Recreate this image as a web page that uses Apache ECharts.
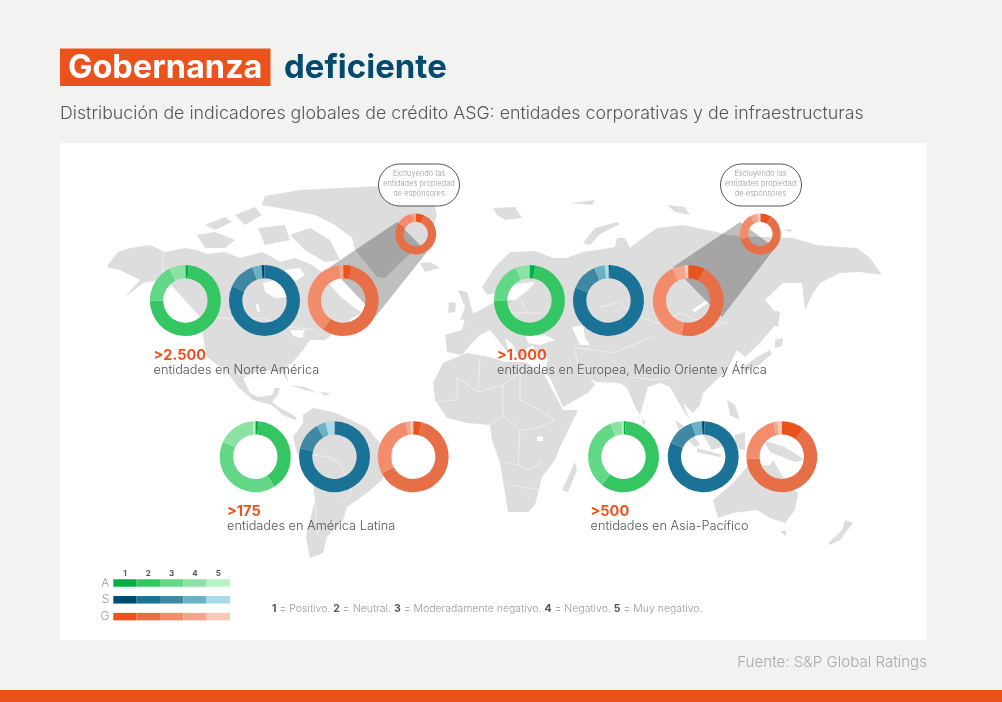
<!DOCTYPE html>
<html lang="es">
<head>
<meta charset="UTF-8">
<script src="https://cdn.jsdelivr.net/npm/echarts@6/dist/echarts.min.js"></script>
</head>
<body style="margin:0;background:#f2f2f0">
<div id="container" style="width:1002px;height:702px"></div>
<script>
var FONT = 'Inter';

// shares per rating level (1..5), clockwise from the top of each ring
var naA = [1.5, 73.5, 17.5, 7.5, 0];
var naS = [1.5, 81.7, 12.7, 4.1, 0];
var naG = [3.9, 55.8, 38.4, 1.9, 0];
var naGx = [6.9, 77, 13.5, 2.6, 0];
var emeaA = [2.6, 72.4, 18.6, 6.4, 0];
var emeaS = [0.7, 80.3, 12.4, 4.9, 1.7];
var emeaG = [7.5, 45.5, 39.8, 5.4, 1.8];
var emeaGx = [8.9, 61.9, 21.7, 5, 2.5];
var latamA = [1.5, 39.5, 41, 17, 1];
var latamS = [0, 78.9, 12.8, 4.1, 4.2];
var latamG = [3.9, 63.4, 29.2, 2.1, 1.4];
var apacA = [1, 59.4, 33.6, 5.2, 0.8];
var apacS = [1.2, 81, 13, 4.8, 0];
var apacG = [10.7, 63.1, 22.2, 2, 2];

var levels = ['1', '2', '3', '4', '5'];
var pillars = ['A', 'S', 'G'];
var legendCell = [1, 1, 1];

var colorsA = ['#05ad49', '#33c662', '#62d887', '#8ce2a3', '#b5f4c6'];
var colorsS = ['#004a6f', '#1a7397', '#3f87a3', '#6cb0c4', '#a8dce9'];
var colorsG = ['#ec531c', '#e76f47', '#f38c6b', '#f6a58b', '#f9c8b6'];

// land outlines, traced in page pixels
var land = [
  [[107,266],[118,252],[130,248],[150,245],[165,252],[185,248],[197,250],[207,254],[225,252],[240,258],[262,252],[270,256],[280,262],[295,258],[312,265],[322,272],[328,283],[342,298],[355,308],[362,313],[352,318],[345,325],[335,332],[325,340],[310,340],[303,350],[292,363],[285,368],[288,382],[282,372],[260,370],[243,378],[250,393],[258,397],[272,395],[275,388],[280,388],[278,395],[272,402],[280,408],[288,412],[297,418],[295,420],[283,415],[272,405],[253,400],[238,387],[228,373],[207,357],[203,337],[200,317],[173,287],[160,280],[143,283],[125,297],[140,280],[120,270],[110,268]],
  [[265,196],[300,190],[340,188],[400,185],[432,195],[437,215],[428,240],[405,258],[385,278],[377,277],[365,262],[355,250],[352,238],[335,225],[315,215],[290,210],[262,205]],
  [[197,235],[215,232],[235,240],[225,248],[205,248]],
  [[205,225],[225,217],[232,222],[215,230]],
  [[235,215],[255,207],[262,215],[245,225]],
  [[258,228],[285,225],[290,240],[265,245]],
  [[290,235],[310,228],[330,240],[340,260],[325,262],[305,250]],
  [[420,263],[430,262],[440,268],[425,272]],
  [[290,385],[305,387],[317,393],[305,390]],
  [[320,392],[330,393],[325,396]],
  [[303,415],[313,408],[333,412],[347,418],[367,428],[380,443],[393,450],[392,460],[382,480],[367,493],[347,507],[343,520],[327,537],[323,553],[310,558],[306,537],[315,500],[312,473],[297,453],[293,437],[303,423]],
  [[433,383],[443,363],[467,353],[490,357],[505,362],[525,362],[543,373],[547,380],[563,410],[578,410],[560,447],[555,460],[542,477],[535,505],[528,512],[508,512],[500,463],[492,440],[490,425],[467,423],[447,418],[435,400]],
  [[482,287],[495,267],[510,252],[535,251],[553,258],[567,258],[583,252],[597,250],[615,247],[617,238],[625,238],[630,248],[640,240],[657,228],[667,227],[683,225],[707,230],[717,232],[727,235],[747,237],[773,237],[793,238],[817,245],[840,247],[857,248],[870,258],[882,275],[860,272],[840,273],[820,283],[813,293],[805,310],[803,293],[802,283],[783,283],[765,300],[775,312],[777,323],[760,343],[745,357],[737,350],[727,370],[703,393],[700,405],[693,413],[683,403],[690,420],[683,410],[670,387],[660,383],[648,387],[640,415],[635,407],[627,388],[620,383],[597,382],[588,393],[563,407],[550,378],[545,373],[548,358],[537,353],[533,345],[527,348],[520,360],[513,345],[505,338],[510,355],[498,340],[490,330],[480,335],[470,345],[462,355],[447,352],[445,335],[462,330],[465,318],[480,310],[493,303],[496,293],[487,295]],
  [[458,290],[467,292],[472,310],[475,318],[460,320],[465,307]],
  [[449,302],[456,303],[455,312],[448,313]],
  [[493,208],[515,207],[522,218],[505,220],[497,215]],
  [[570,203],[595,200],[592,205]],
  [[667,205],[685,207],[690,215],[675,212]],
  [[583,243],[595,228],[617,222],[620,224],[600,234],[590,245]],
  [[783,229],[793,230],[790,232]],
  [[775,310],[780,312],[778,327],[774,325]],
  [[757,357],[770,350],[772,354],[760,364],[745,372],[742,368]],
  [[775,340],[783,338],[782,346],[775,348]],
  [[562,490],[575,462],[577,470],[568,492]],
  [[675,420],[690,430],[700,445],[695,447],[680,432]],
  [[697,448],[722,455],[720,457],[697,452]],
  [[703,435],[725,432],[728,445],[712,450]],
  [[727,400],[735,405],[740,420],[730,415]],
  [[735,435],[745,432],[745,450],[735,448]],
  [[763,440],[785,447],[805,460],[795,462],[770,452]],
  [[642,418],[646,422],[643,426]],
  [[713,500],[733,483],[747,467],[770,465],[773,460],[783,477],[798,493],[795,510],[785,523],[770,518],[757,510],[733,513],[718,518]],
  [[780,531],[787,531],[785,536]],
  [[828,543],[842,530],[845,520],[853,523],[840,540],[830,545]]
];

// seas and big lakes painted back over the land
var water = [
  [[263,283],[275,280],[285,270],[300,268],[305,275],[292,283],[287,292],[287,297],[275,298],[265,292]],
  [[256,304],[258,304],[260,312],[257,311]],
  [[507,290],[515,285],[525,283],[535,282],[528,290],[515,300],[505,300]],
  [[525,335],[545,335],[555,340],[540,345],[528,343]],
  [[572,327],[583,325],[585,338],[590,345],[580,345]],
  [[692,310],[707,300],[708,303],[695,312]],
  [[290,330],[305,330],[302,338],[293,336]],
  [[590,378],[598,383],[596,386]],
  [[537,437],[543,436],[543,441],[537,441]]
];

// country borders
var borders = [
  [[457,377],[478,392],[503,385],[520,372]],
  [[457,377],[457,400],[437,402]],
  [[503,385],[503,415],[490,425]],
  [[520,372],[520,400],[540,410],[555,420]],
  [[503,415],[520,430],[538,428],[555,420]],
  [[520,430],[518,465],[530,470],[542,462]],
  [[505,462],[518,465]],
  [[510,485],[540,490]],
  [[525,362],[522,372]],
  [[480,358],[478,392]],
  [[200,318],[260,318],[290,327],[315,330]],
  [[210,362],[240,375],[265,378]],
  [[163,250],[163,280],[173,287]],
  [[312,455],[328,457],[340,463],[352,493],[343,503]],
  [[315,500],[318,535]],
  [[600,307],[620,302],[630,313],[657,323],[680,313],[697,320],[727,323]],
  [[660,320],[680,327],[707,328],[727,323]],
  [[507,313],[540,313]],
  [[520,297],[527,313]],
  [[573,347],[613,353],[653,337]],
  [[630,377],[657,380],[673,377]],
  [[575,350],[580,375]]
];

var geoJson = {
  type: 'FeatureCollection',
  features: land.map(function (ring, i) {
    return { type: 'Feature', properties: { name: 'land' + i }, geometry: { type: 'Polygon', coordinates: [ring] } };
  }).concat(water.map(function (ring, i) {
    return { type: 'Feature', properties: { name: 'water' + i }, geometry: { type: 'Polygon', coordinates: [ring] } };
  }))
};
echarts.registerMap('world', geoJson);

var RING_BIG = [22.2, 35.5];
var RING_SMALL = [12.2, 20.5];

var donuts = [
  { values: naA, colors: colorsA, center: [185.4, 300.5], radius: RING_BIG, turn: 0 },
  { values: naS, colors: colorsS, center: [264.5, 300.5], radius: RING_BIG, turn: 1.5 },
  { values: naG, colors: colorsG, center: [343.2, 300.5], radius: RING_BIG, turn: 0 },
  { values: naGx, colors: colorsG, center: [415.7, 234], radius: RING_SMALL, turn: 0 },
  { values: emeaA, colors: colorsA, center: [529.5, 300.5], radius: RING_BIG, turn: 0 },
  { values: emeaS, colors: colorsS, center: [608.5, 300.5], radius: RING_BIG, turn: 0 },
  { values: emeaG, colors: colorsG, center: [688.2, 300.5], radius: RING_BIG, turn: 0 },
  { values: emeaGx, colors: colorsG, center: [760.3, 234], radius: RING_SMALL, turn: 0 },
  { values: latamA, colors: colorsA, center: [255.3, 456.7], radius: RING_BIG, turn: 0 },
  { values: latamS, colors: colorsS, center: [334.5, 456.7], radius: RING_BIG, turn: 0 },
  { values: latamG, colors: colorsG, center: [413.2, 456.7], radius: RING_BIG, turn: 0 },
  { values: apacA, colors: colorsA, center: [623.5, 456.7], radius: RING_BIG, turn: 0 },
  { values: apacS, colors: colorsS, center: [703.2, 456.7], radius: RING_BIG, turn: 0.6 },
  { values: apacG, colors: colorsG, center: [781.8, 456.7], radius: RING_BIG, turn: 0 }
];

var series = donuts.map(function (d) {
  return {
    type: 'pie',
    silent: true,
    animation: false,
    radius: d.radius,
    center: d.center,
    startAngle: 90 + d.turn * 3.6,
    label: { show: false },
    labelLine: { show: false },
    data: d.values.map(function (v, i) {
      return { value: v, name: levels[i], itemStyle: { color: d.colors[i] } };
    })
  };
});

series.push({
  type: 'lines',
  coordinateSystem: 'geo',
  polyline: true,
  silent: true,
  animation: false,
  z: 1,
  lineStyle: { color: '#f6f6f6', width: 0.7, opacity: 1 },
  data: borders.map(function (b) { return { coords: b }; })
});

// legend swatches: one stacked bar per pillar
levels.forEach(function (level, i) {
  series.push({
    type: 'bar',
    silent: true,
    animation: false,
    stack: 'legend',
    barWidth: 7.5,
    xAxisIndex: 0,
    yAxisIndex: 0,
    data: legendCell.map(function (v, j) {
      return { value: v, itemStyle: { color: [colorsA, colorsS, colorsG][j][i] } };
    })
  });
});

function plainText(x, y, text, size, color, weight, align) {
  return {
    type: 'text', x: x, y: y, z: 6, silent: true,
    style: {
      text: text, fontFamily: FONT, fontSize: size, fill: color,
      fontWeight: weight || 300, align: align || 'left', verticalAlign: 'middle'
    }
  };
}

function bubble(x) {
  return {
    type: 'rect', z: 5, silent: true,
    shape: { x: x, y: 164, width: 81, height: 42, r: 21 },
    style: { fill: '#fff', stroke: '#555', lineWidth: 1 }
  };
}

function regionLabel(x, y, count, name) {
  return [
    plainText(x, y, count, 14.5, '#ec531c', 700),
    plainText(x, y + 14.5, name, 12.75, '#555')
  ];
}

var graphics = [
  { type: 'rect', z: -10, silent: true, shape: { x: 60, y: 143, width: 867, height: 497 }, style: { fill: '#fff' } },
  { type: 'rect', z: -10, silent: true, shape: { x: 0, y: 690, width: 1002, height: 12 }, style: { fill: '#ec531c' } },
  { type: 'rect', z: -10, silent: true, shape: { x: 60, y: 48.5, width: 210.5, height: 37.5 }, style: { fill: '#ec531c' } },
  // beams from big rings to the small ones
  { type: 'polygon', z: 1, silent: true, shape: { points: [[330, 267], [397, 222], [427, 252], [376, 316]] }, style: { fill: 'rgba(0,0,0,0.25)' } },
  { type: 'polygon', z: 1, silent: true, shape: { points: [[673, 267], [740, 222], [775, 248], [722, 317]] }, style: { fill: 'rgba(0,0,0,0.25)' } },
  bubble(378.5),
  bubble(720.5),
  plainText(68, 68, 'Gobernanza', 32.5, '#fff', 700),
  plainText(284, 68, 'deficiente', 33, '#004b6e', 700),
  plainText(60, 113.5, 'Distribución de indicadores globales de crédito ASG: entidades corporativas y de infraestructuras', 17.8, '#555'),
  plainText(927, 662, 'Fuente: S&P Global Ratings', 15.1, '#aaa', 300, 'right'),
  plainText(419, 173.5, 'Excluyendo las', 7.5, '#999', 300, 'center'),
  plainText(419, 183.5, 'entidades propiedad', 7.5, '#999', 300, 'center'),
  plainText(419, 193.5, 'de espónsores', 7.5, '#999', 300, 'center'),
  plainText(760.5, 173.5, 'Excluyendo las', 7.5, '#999', 300, 'center'),
  plainText(760.5, 183.5, 'entidades propiedad', 7.5, '#999', 300, 'center'),
  plainText(760.5, 193.5, 'de espónsores', 7.5, '#999', 300, 'center'),
  {
    type: 'text', x: 272, y: 608.5, z: 6, silent: true,
    style: {
      text: '{b|1} = Positivo. {b|2} = Neutral. {b|3} = Moderadamente negativo. {b|4} = Negativo. {b|5} = Muy negativo.',
      fontFamily: FONT, fontSize: 10.5, fontWeight: 300, fill: '#999', verticalAlign: 'middle',
      rich: { b: { fontFamily: FONT, fontSize: 10.5, fontWeight: 700, fill: '#555' } }
    }
  }
].concat(
  regionLabel(153.5, 356, '>2.500', 'entidades en Norte América'),
  regionLabel(497, 356, '>1.000', 'entidades en Europea, Medio Oriente y África'),
  regionLabel(227, 512, '>175', 'entidades en América Latina'),
  regionLabel(590.5, 512, '>500', 'entidades en Asia-Pacífico')
);

var myChart = echarts.init(document.getElementById('container'), null, { renderer: 'canvas' });
myChart.setOption({
  backgroundColor: '#f2f2f0',
  animation: false,
  tooltip: { show: false },
  geo: {
    map: 'world',
    silent: true,
    z: 0,
    left: 0,
    top: 0,
    width: 1002,
    height: 702,
    aspectScale: 1,
    boundingCoords: [[0, 0], [1002, 702]],
    projection: {
      project: function (p) { return p; },
      unproject: function (p) { return p; }
    },
    label: { show: false },
    itemStyle: { areaColor: '#dddddd', borderColor: '#dddddd', borderWidth: 0 },
    regions: water.map(function (w, i) {
      return { name: 'water' + i, itemStyle: { areaColor: '#fff', borderColor: '#fff' } };
    })
  },
  grid: { left: 113.3, top: 574.6, width: 116.7, height: 50.4, containLabel: false },
  xAxis: [
    { type: 'value', min: 0, max: 5, show: false },
    {
      type: 'category', position: 'top', data: levels, offset: -3,
      axisLine: { show: false }, axisTick: { show: false },
      axisLabel: { fontFamily: FONT, fontSize: 8, fontWeight: 700, color: '#555', margin: 0 }
    }
  ],
  yAxis: {
    type: 'category', inverse: true, data: pillars,
    axisLine: { show: false }, axisTick: { show: false },
    axisLabel: { fontFamily: FONT, fontSize: 12, fontWeight: 300, color: '#999', margin: 4, align: 'right' }
  },
  series: series,
  graphic: { elements: graphics }
});

window.addEventListener('resize', myChart.resize);
</script>
</body>
</html>
